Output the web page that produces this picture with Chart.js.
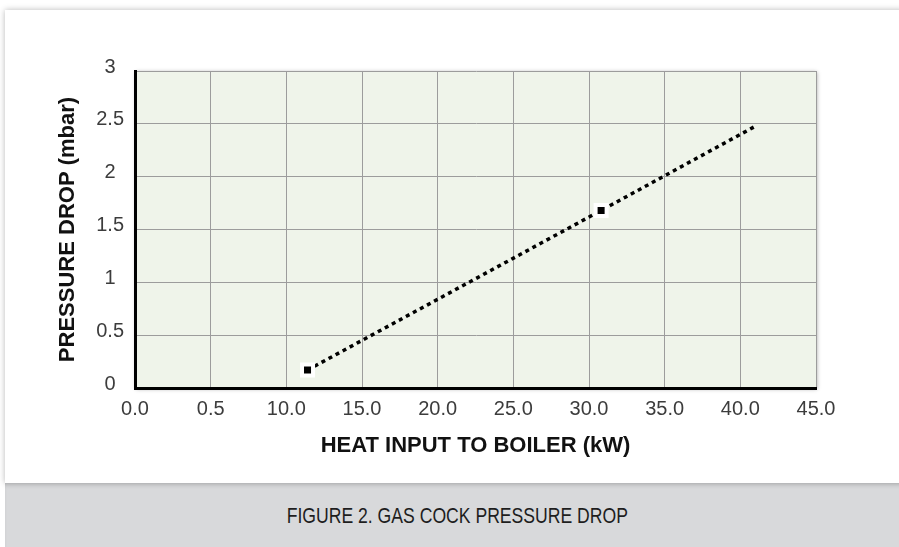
<!DOCTYPE html>
<html>
<head>
<meta charset="utf-8">
<script src="https://cdn.jsdelivr.net/npm/chart.js@4/dist/chart.umd.min.js"></script>
<style>
  html, body { margin: 0; padding: 0; background: #fff; }
  body { width: 899px; height: 547px; position: relative; overflow: hidden; }
  .card {
    position: absolute; left: 5px; top: 10px; width: 900px; height: 473px;
    background: #fff; box-shadow: 0 0 6px rgba(0, 0, 0, 0.28);
  }
  .chartBox { position: absolute; left: 0; top: 0; width: 894px; height: 473px; }
  .caption {
    position: absolute; left: 5px; top: 483px; width: 900px; height: 64px;
    background: #d8d9db; box-shadow: inset 0 4px 5px -3px rgba(0, 0, 0, 0.25);
    text-align: center; line-height: 70px;
    padding-left: 4px; box-sizing: border-box;
  }
  .caption span {
    display: inline-block; transform: scaleX(0.8);
    font-family: "Liberation Sans", Arial, sans-serif;
    font-size: 22px; color: #1e1e1e; line-height: 1;
  }
</style>
</head>
<body>
<div class="card">
  <div class="chartBox"><canvas id="grafico"></canvas></div>
</div>
<div class="caption"><span>FIGURE 2. GAS COCK PRESSURE DROP</span></div>
<script>
// values
const heatInput = [11.4, 30.8, 40.9];
const pressureDrop = [0.17, 1.68, 2.47];
const xTickLabels = ["0.0", "0.5", "10.0", "15.0", "20.0", "25.0", "30.0", "35.0", "40.0", "45.0"];
const yTickLabels = ["0", "0.5", "1", "1.5", "2", "2.5", "3"];

const ctx = document.getElementById("grafico");

const plotBackground = {
  id: "plotBackground",
  beforeDraw(chart) {
    const { ctx, chartArea: a } = chart;
    ctx.save();
    ctx.shadowColor = "rgba(0, 0, 0, 0.35)";
    ctx.shadowBlur = 4;
    ctx.shadowOffsetX = 1;
    ctx.shadowOffsetY = 1;
    ctx.fillStyle = "#eff4ea";
    ctx.fillRect(a.left, a.top, a.right - a.left, a.bottom - a.top);
    ctx.restore();
  }
};

const tickFont = { family: "'Liberation Sans', Arial, sans-serif", size: 20 };
const titleFont = { family: "'Liberation Sans', Arial, sans-serif", size: 22, weight: "bold" };

new Chart(ctx, {
  type: "scatter",
  data: {
    datasets: [{
      data: heatInput.map((x, i) => ({ x, y: pressureDrop[i] })),
      showLine: true,
      borderColor: "#000",
      borderWidth: 3.5,
      borderDash: [4, 4],
      pointStyle: "rect",
      pointRadius: c => (c.dataIndex === heatInput.length - 1 ? 0 : 7.8),
      pointBackgroundColor: "#000",
      pointBorderColor: "#fff",
      pointBorderWidth: 4
    }]
  },
  options: {
    responsive: true,
    maintainAspectRatio: false,
    animation: false,
    layout: { padding: { left: 40, right: 83, top: 61, bottom: 20 } },
    plugins: { legend: { display: false }, tooltip: { enabled: false } },
    scales: {
      x: {
        type: "linear",
        min: 0,
        max: 45,
        afterFit: s => { s.height = 75; },
        ticks: {
          stepSize: 5,
          padding: 9,
          color: "#3c3c3c",
          font: tickFont,
          maxRotation: 0,
          callback: (v, i) => xTickLabels[i]
        },
        grid: { color: "#9c9c9c", lineWidth: 1, drawTicks: false },
        border: { color: "#000", width: 3 },
        title: {
          display: true,
          text: "HEAT INPUT TO BOILER (kW)",
          color: "#111",
          font: titleFont,
          padding: { top: 0, bottom: 4 }
        }
      },
      y: {
        min: 0,
        max: 3,
        afterFit: s => { s.width = 90; },
        ticks: {
          stepSize: 0.5,
          padding: 11,
          crossAlign: "center",
          labelOffset: -4,
          color: "#3c3c3c",
          font: tickFont,
          callback: (v, i) => yTickLabels[i]
        },
        grid: { color: "#9c9c9c", lineWidth: 1, drawTicks: false },
        border: { color: "#000", width: 3 },
        title: {
          display: true,
          text: "PRESSURE DROP (mbar)",
          color: "#111",
          font: titleFont,
          padding: { top: 10, bottom: 0 }
        }
      }
    }
  },
  plugins: [plotBackground]
});
</script>
</body>
</html>
